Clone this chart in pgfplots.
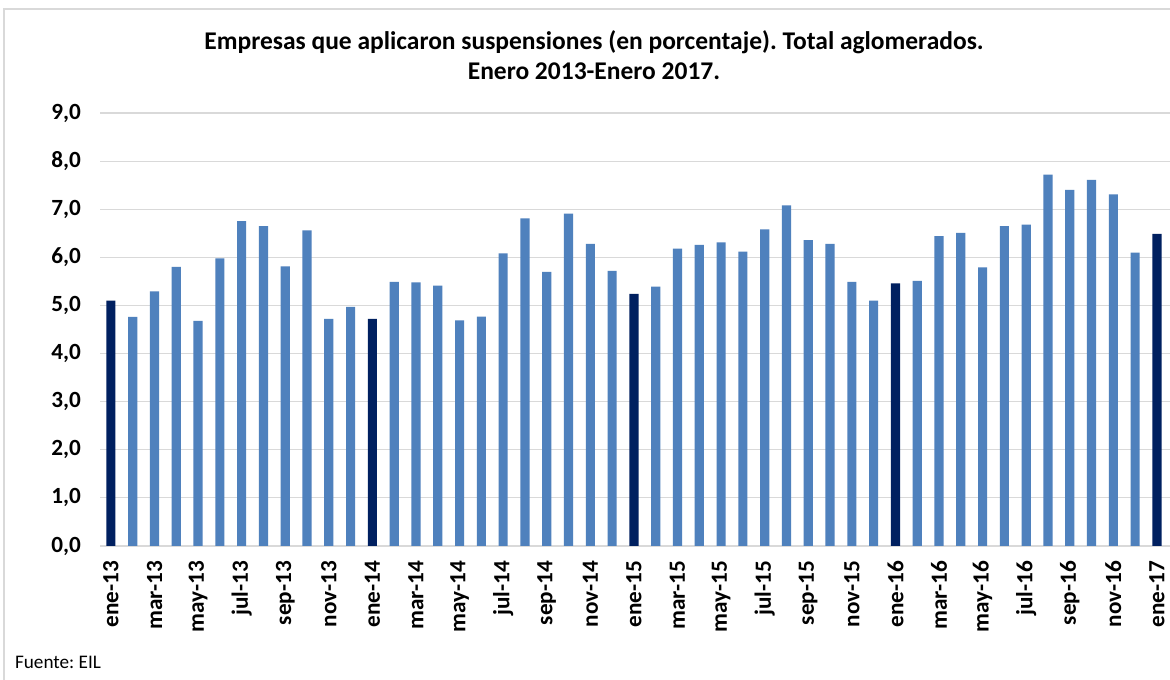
\documentclass[border=0pt]{standalone}
\usepackage{pgfplots}
\pgfplotsset{compat=1.18}
\usepackage{fontspec}
\setmainfont{Carlito}
\frenchspacing
\definecolor{KBlue}{HTML}{4F81BD}
\definecolor{KNavy}{HTML}{002060}
\definecolor{KGrid}{HTML}{D9D9D9}

% suspensiones, ene-13 .. ene-17 (x = month index)
\pgfplotstableread{
x y
1 4.76
2 5.29
3 5.80
4 4.68
5 5.98
6 6.75
7 6.65
8 5.81
9 6.56
10 4.72
11 4.97
13 5.49
14 5.48
15 5.41
16 4.69
17 4.77
18 6.08
19 6.81
20 5.70
21 6.91
22 6.28
23 5.72
25 5.39
26 6.18
27 6.26
28 6.31
29 6.12
30 6.58
31 7.08
32 6.36
33 6.28
34 5.49
35 5.10
37 5.51
38 6.44
39 6.51
40 5.79
41 6.65
42 6.68
43 7.72
44 7.40
45 7.61
46 7.31
47 6.10
}\meses
\pgfplotstableread{
x y
0 5.10
12 4.72
24 5.24
36 5.46
48 6.49
}\eneros

\begin{document}
\begin{tikzpicture}
  \useasboundingbox (0,0) rectangle (585pt,339.5pt);
  \fill[white] (0,0) rectangle (585pt,339.5pt);
  \draw[KGrid,line width=0.8pt] (2pt,-5pt) -- (2pt,335pt) -- (590pt,335pt);
  \node[font=\fontsize{12.75}{15}\selectfont\bfseries,align=center]
    at (297pt,312pt) {Empresas que aplicaron suspensiones (en porcentaje). Total aglomerados.\\Enero 2013-Enero 2017.};
  \node[font=\fontsize{9.6}{11}\selectfont,anchor=base west] at (4pt,5.5pt) {Fuente: EIL};
  \begin{axis}[
      at={(50pt,66.5pt)},anchor=south west,
      scale only axis,
      width=535pt,height=216.5pt,
      ybar,bar width=0.42,bar shift=0pt,
      xmin=-0.5,xmax=48.6,ymin=0,ymax=9,
      axis x line*=bottom,axis y line*=left,
      x axis line style={KGrid,line width=0.8pt,-},
      y axis line style={draw=none},
      ymajorgrids,grid style={KGrid,line width=0.6pt},
      ytick={0,1,...,9},
      xtick={0,2,...,48},
      xticklabels={ene-13,mar-13,may-13,jul-13,sep-13,nov-13,
        ene-14,mar-14,may-14,jul-14,sep-14,nov-14,
        ene-15,mar-15,may-15,jul-15,sep-15,nov-15,
        ene-16,mar-16,may-16,jul-16,sep-16,nov-16,ene-17},
      major tick length=0pt,
      ticklabel style={font=\fontsize{11.6}{13}\selectfont\bfseries},
      xticklabel style={rotate=90,anchor=east,xshift=-4pt},
      yticklabel style={xshift=-6pt},
      yticklabel={\pgfmathprintnumber{\tick}},
      /pgf/number format/.cd,use comma,fixed,fixed zerofill,precision=1,assume math mode=true,
    ]
    \addplot[fill=KBlue,draw=none] table[x=x,y=y] {\meses};
    \addplot[fill=KNavy,draw=none] table[x=x,y=y] {\eneros};
  \end{axis}
\end{tikzpicture}
\end{document}
